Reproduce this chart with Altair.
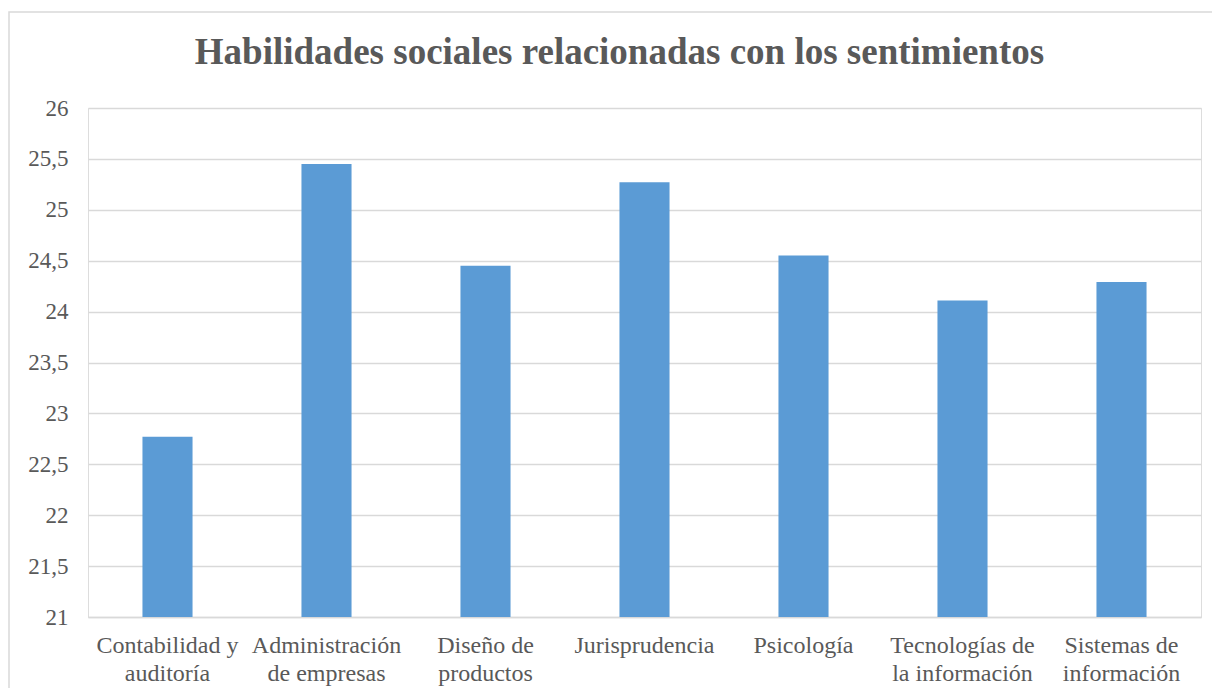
import altair as alt
import pandas as pd

categories = [
    "Contabilidad y|auditoría",
    "Administración|de empresas",
    "Diseño de|productos",
    "Jurisprudencia",
    "Psicología",
    "Tecnologías de|la información",
    "Sistemas de|información",
]
values = [22.77, 25.45, 24.45, 25.27, 24.55, 24.11, 24.29]
y_ticks = [21, 21.5, 22, 22.5, 23, 23.5, 24, 24.5, 25, 25.5, 26]
title_text = "Habilidades sociales relacionadas con los sentimientos"

df = pd.DataFrame({"cat": categories, "val": values})

FONT = "Liberation Serif"
GREY = "#595959"
GRID = "#d9d9d9"

bars = alt.Chart(df).mark_bar(color="#5b9bd5").encode(
    x=alt.X(
        "cat:N",
        sort=categories,
        title=None,
        scale=alt.Scale(paddingInner=0.685, paddingOuter=0.3425),
        axis=alt.Axis(
            labelAngle=0,
            labelExpr="split(datum.label, '|')",
            labelLineHeight=28,
            labelFontSize=24,
            labelFont=FONT,
            labelColor=GREY,
            labelPadding=16,
            ticks=False,
            domainColor=GRID,
            domainWidth=1.5,
            grid=False,
        ),
    ),
    y=alt.Y(
        "val:Q",
        title=None,
        scale=alt.Scale(domain=[21, 26], nice=False, zero=False, clamp=True),
        axis=alt.Axis(
            values=y_ticks,
            labelExpr="replace(format(datum.value, ''), '.', ',')",
            labelFontSize=23,
            labelFont=FONT,
            labelColor=GREY,
            labelPadding=20,
            ticks=False,
            domain=False,
            grid=True,
            gridColor=GRID,
            gridWidth=1.5,
        ),
    ),
)

frame = alt.Chart(pd.DataFrame({"a": [0]})).mark_rect(
    fillOpacity=0, stroke=GRID, strokeWidth=1.5
).encode(
    x=alt.value(-79), x2=alt.value(1300), y=alt.value(-96), y2=alt.value(800)
)

chart = alt.layer(frame, bars).properties(
    width=1113,
    height=509,
    title=alt.TitleParams(
        title_text,
        font=FONT,
        fontSize=37,
        fontWeight="bold",
        color=GREY,
        anchor="middle",
        offset=0,
        dy=61,
        dx=-25,
    ),
    autosize=alt.AutoSizeParams(type="none"),
    padding={"left": 80, "top": 100, "right": 11, "bottom": 71},
).configure_view(stroke=None).configure(background="white")

chart.save("out.html", embed_options={"renderer": "svg", "actions": False})
